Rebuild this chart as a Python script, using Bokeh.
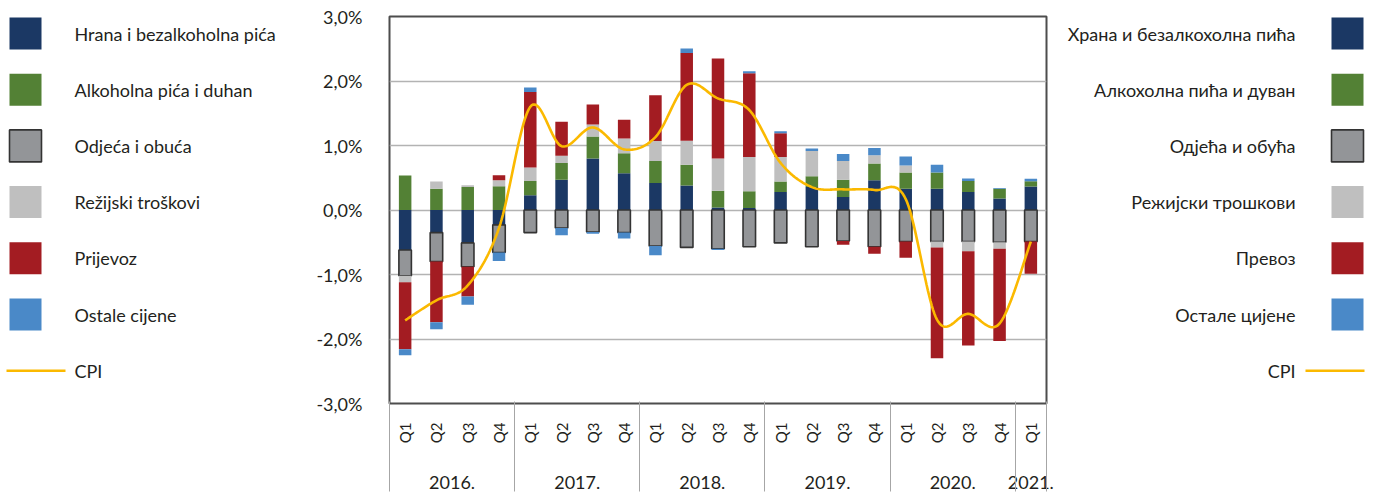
import numpy as np
from bokeh.plotting import figure
from bokeh.models import Range1d, FixedTicker, CustomJSTickFormatter, ColumnDataSource, LinearAxis
from bokeh.layouts import row
from bokeh.embed import file_html
from bokeh.resources import INLINE
from bokeh.core.properties import value

# ---------------- data ----------------
years = ["2016."] * 4 + ["2017."] * 4 + ["2018."] * 4 + ["2019."] * 4 + ["2020."] * 4 + ["2021."]
quarters = ["Q1", "Q2", "Q3", "Q4"] * 5 + ["Q1"]

names_lat = ["Hrana i bezalkoholna pića", "Alkoholna pića i duhan", "Odjeća i obuća",
             "Režijski troškovi", "Prijevoz", "Ostale cijene", "CPI"]
names_cyr = ["Храна и безалкохолна пића", "Алкохолна пића и дуван", "Одјећа и обућа",
             "Режијски трошкови", "Превоз", "Остале цијене", "CPI"]

hrana = [-0.62, -0.35, -0.51, -0.23, 0.23, 0.47, 0.80, 0.57, 0.42, 0.38, 0.04,
         0.03, 0.28, 0.355, 0.20, 0.46, 0.33, 0.33, 0.28, 0.18, 0.365]
alkohol = [0.535, 0.33, 0.355, 0.37, 0.22, 0.26, 0.34, 0.31, 0.34, 0.32, 0.26,
           0.26, 0.16, 0.17, 0.27, 0.26, 0.25, 0.25, 0.17, 0.15, 0.08]
odjeca = [-0.40, -0.45, -0.37, -0.43, -0.35, -0.28, -0.34, -0.35, -0.56, -0.58, -0.60,
          -0.57, -0.51, -0.57, -0.48, -0.57, -0.49, -0.49, -0.49, -0.50, -0.49]
rezijski = [-0.10, 0.11, 0.03, 0.09, 0.21, 0.11, 0.185, 0.23, 0.31, 0.375, 0.50,
            0.53, 0.38, 0.39, 0.29, 0.13, 0.11, -0.09, -0.15, -0.10, 0.0]
prijevoz = [-1.04, -0.94, -0.46, 0.08, 1.17, 0.53, 0.31, 0.29, 0.71, 1.36, 1.55,
            1.30, 0.37, 0.0, -0.06, -0.11, -0.25, -1.72, -1.46, -1.43, -0.50]
ostale = [-0.09, -0.11, -0.13, -0.13, 0.07, -0.11, -0.03, -0.09, -0.14, 0.07, -0.02,
          0.03, 0.03, 0.04, 0.11, 0.11, 0.14, 0.12, 0.04, 0.01, 0.04]
cpi = [-1.71, -1.40, -1.17, -0.28, 1.60, 0.99, 1.28, 0.94, 1.13, 1.94, 1.73,
       1.55, 0.73, 0.355, 0.32, 0.31, 0.17, -1.70, -1.61, -1.76, -0.49]

y_ticks = [-3, -2, -1, 0, 1, 2, 3]

# ---------------- styles ----------------
colors = ["#1b3864", "#538135", "#939598", "#bfbfbf", "#a31c22", "#4a89c8"]
outline = [None, None, "#333333", None, None, None]
cpi_color = "#fbb900"
FONT = "Lato"
TXT = "#231f20"
H = 494
TOP, BOTTOM = 16, 91
SEP = "#a6a6a6"

# ---------------- main chart ----------------
n = len(quarters)
xc = np.arange(n) + 0.5
p = figure(x_range=Range1d(0, n), y_range=Range1d(-3, 3), width=752, height=H,
           output_backend="svg", toolbar_location=None,
           min_border_left=81, min_border_right=14, min_border_top=TOP, min_border_bottom=BOTTOM)
p.background_fill_color = "white"
p.border_fill_color = "white"
p.outline_line_color = "#4d4d4d"
p.outline_line_width = 2

series = [hrana, alkohol, odjeca, rezijski, prijevoz, ostale]
pos = np.zeros(n)
neg = np.zeros(n)
for vals, col, lc in zip(series, colors, outline):
    v = np.array(vals, dtype=float)
    bottom = np.where(v >= 0, pos, neg + v)
    top = np.where(v >= 0, pos + v, neg)
    pos = pos + np.where(v > 0, v, 0)
    neg = neg + np.where(v < 0, v, 0)
    src = ColumnDataSource(dict(x=xc, bottom=bottom, top=top))
    p.vbar(x="x", bottom="bottom", top="top", width=0.4, source=src,
           fill_color=col, line_color=lc, line_width=1.6 if lc else 0)

# smoothed CPI line (Bezier through the data points, like a spreadsheet smoothed line)
P = np.column_stack([xc, np.array(cpi, dtype=float)])
cx, cy = [], []
for i in range(n - 1):
    p0 = P[max(i - 1, 0)]
    p1 = P[i]
    p2 = P[i + 1]
    p3 = P[min(i + 2, n - 1)]
    c1 = p1 + (p2 - p0) / 6.0
    c2 = p2 - (p3 - p1) / 6.0
    for t in np.linspace(0, 1, 24, endpoint=False):
        b = ((1 - t) ** 3) * p1 + 3 * ((1 - t) ** 2) * t * c1 + 3 * (1 - t) * t * t * c2 + t ** 3 * p2
        cx.append(b[0])
        cy.append(b[1])
cx.append(P[-1, 0])
cy.append(P[-1, 1])
p.line(cx, cy, line_color=cpi_color, line_width=2.6)

# y axis
ya = p.yaxis[0]
ya.ticker = FixedTicker(ticks=y_ticks)
ya.formatter = CustomJSTickFormatter(code="return tick.toFixed(1).replace('.', ',') + '%';")
ya.major_tick_line_color = None
ya.minor_tick_line_color = None
ya.axis_line_color = None
ya.major_label_standoff = 21
ya.major_label_text_font = FONT
ya.major_label_text_font_size = "18px"
ya.major_label_text_color = TXT

# x axis: quarters
uniq_years = list(dict.fromkeys(years))
year_centers = [float(np.mean([xc[i] for i in range(n) if years[i] == y])) for y in uniq_years]
bounds = [0.0] + [float(i) for i in range(1, n) if years[i] != years[i - 1]] + [float(n)]

xa = p.xaxis[0]
xa.ticker = FixedTicker(ticks=list(xc), minor_ticks=[])
xa.formatter = CustomJSTickFormatter(args=dict(labels=quarters), code="return labels[index];")
xa.major_label_orientation = np.pi / 2
xa.major_label_text_font = FONT
xa.major_label_text_font_size = "15px"
xa.major_label_text_color = TXT
xa.major_label_standoff = 19
xa.major_tick_line_color = None
xa.major_tick_out = 0
xa.major_tick_in = 0
xa.minor_tick_line_color = None
xa.axis_line_color = None

# x axis: years
xa2 = LinearAxis(ticker=FixedTicker(ticks=year_centers, minor_ticks=[]),
                 formatter=CustomJSTickFormatter(args=dict(labels=uniq_years), code="return labels[index];"))
xa2.major_label_text_font = FONT
xa2.major_label_text_font_size = "18px"
xa2.major_label_text_color = TXT
xa2.major_label_standoff = 29
xa2.major_tick_line_color = None
xa2.major_tick_out = 0
xa2.major_tick_in = 0
xa2.minor_tick_line_color = None
xa2.axis_line_color = None
p.add_layout(xa2, "below")

# year separators (ticks pointing up from the bottom)
xa3 = LinearAxis(ticker=FixedTicker(ticks=[], minor_ticks=bounds))
xa3.major_label_standoff = 0
xa3.major_tick_line_color = None
xa3.major_tick_out = 0
xa3.major_tick_in = 0
xa3.minor_tick_out = 0
xa3.minor_tick_in = 90
xa3.minor_tick_line_color = SEP
xa3.minor_tick_line_width = 1
xa3.axis_line_color = None
p.add_layout(xa3, "below")

p.xgrid.grid_line_color = None
p.ygrid.grid_line_color = "#b3b3b3"
p.ygrid.grid_line_width = 1.5

# ---------------- legends ----------------
def legend_fig(width, names, rect_x, text_x, align, line_x0, line_x1):
    f = figure(width=width, height=H, x_range=Range1d(0, width), y_range=Range1d(H - BOTTOM, TOP),
               output_backend="svg", toolbar_location=None,
               x_axis_location=None, y_axis_location=None,
               min_border_left=0, min_border_right=0, min_border_top=TOP, min_border_bottom=BOTTOM)
    f.outline_line_color = None
    f.xgrid.grid_line_color = None
    f.ygrid.grid_line_color = None
    f.background_fill_color = "white"
    f.border_fill_color = "white"
    ys = [33 + 56.2 * i for i in range(len(names))]
    for i in range(6):
        f.rect(x=[rect_x], y=[ys[i]], width=32, height=32, fill_color=colors[i],
               line_color=outline[i] if outline[i] else None, line_width=1.6 if outline[i] else 0)
    f.text(x=[text_x] * len(names), y=ys, text=names, text_font=value(FONT),
           text_font_size="18px", text_color=TXT, text_align=align, text_baseline="middle")
    f.line([line_x0, line_x1], [ys[6], ys[6]], line_color=cpi_color, line_width=2.6)
    return f

left = legend_fig(308, names_lat, 25, 74, "left", 6, 65)
right = legend_fig(316, names_cyr, 287, 235, "right", 245, 304)

layout = row(left, p, right, spacing=0)
open("out.html", "w").write(file_html(layout, INLINE))
